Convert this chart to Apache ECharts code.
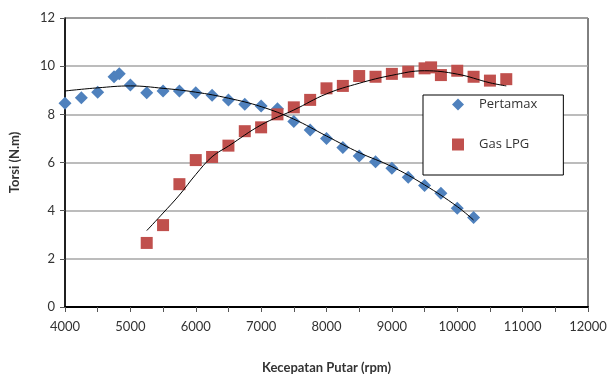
<!DOCTYPE html>
<html>
<head>
<meta charset="utf-8">
<script src="https://cdn.jsdelivr.net/npm/echarts@6/dist/echarts.min.js"></script>
<style>
  html, body { margin: 0; padding: 0; background: #fff; }
  #chart { width: 611px; height: 374px; }
</style>
</head>
<body>
<div id="chart"></div>
<script>
// data
const pertamaxRpm = [4000, 4250, 4500, 4750, 4830, 5000, 5250, 5500, 5750, 6000, 6250, 6500, 6750, 7000, 7250, 7500, 7750, 8000, 8250, 8500, 8750, 9000, 9250, 9500, 9750, 10000, 10250]
const pertamaxTorsi = [8.46, 8.69, 8.92, 9.56, 9.68, 9.22, 8.9, 8.97, 8.97, 8.9, 8.79, 8.6, 8.42, 8.35, 8.23, 7.7, 7.35, 7.0, 6.62, 6.27, 6.03, 5.76, 5.39, 5.04, 4.72, 4.1, 3.72]

const lpgRpm = [5250, 5500, 5750, 6000, 6250, 6500, 6750, 7000, 7250, 7500, 7750, 8000, 8250, 8500, 8750, 9000, 9250, 9500, 9600, 9750, 10000, 10250, 10500, 10750]
const lpgTorsi = [2.66, 3.4, 5.1, 6.1, 6.23, 6.7, 7.3, 7.46, 8.0, 8.29, 8.6, 9.08, 9.18, 9.59, 9.56, 9.68, 9.77, 9.91, 9.95, 9.63, 9.81, 9.56, 9.4, 9.46]

// trend lines
const trendPertamaxRpm = [4000, 4500, 5000, 5500, 6000, 6500, 7000, 7500, 8000, 8500, 9000, 9500, 10000, 10250]
const trendPertamaxTorsi = [8.97, 9.1, 9.18, 9.08, 8.92, 8.67, 8.32, 7.8, 7.1, 6.41, 5.83, 5.07, 4.17, 3.61]
const trendLpgRpm = [5250, 5500, 5750, 6000, 6250, 6500, 7000, 7500, 8000, 8500, 9000, 9500, 10000, 10500, 10750]
const trendLpgTorsi = [3.17, 3.9, 4.65, 5.5, 6.24, 6.68, 7.56, 8.18, 8.85, 9.29, 9.62, 9.81, 9.67, 9.31, 9.18]

const xTicks = ['4000', '5000', '6000', '7000', '8000', '9000', '10000', '11000', '12000']
const yTicks = ['0', '2', '4', '6', '8', '10', '12']

const pairs = (xs, ys) => xs.map((x, i) => [x, ys[i]])

const chart = echarts.init(document.getElementById('chart'))
const font = 'Lato, "Open Sans", sans-serif'

const option = {
  backgroundColor: '#fff',
  animation: false,
  textStyle: { fontFamily: font },
  grid: {
    left: 65, right: 23, top: 18, bottom: 67,
    outerBoundsMode: 'none',
    show: true, borderColor: '#000', borderWidth: 1
  },
  legend: {
    data: ['Pertamax', 'Gas LPG'],
    orient: 'vertical',
    left: 423, top: 95,
    padding: [3, 26, 24, 29],
    itemGap: 27,
    itemWidth: 12, itemHeight: 12,
    backgroundColor: '#fff',
    borderColor: '#000', borderWidth: 1,
    textStyle: { fontFamily: '"Open Sans", sans-serif', fontSize: 13, color: '#333', padding: [0, 0, 0, 10] }
  },
  xAxis: {
    type: 'value',
    min: 4000, max: 12000, interval: 1000,
    name: 'Kecepatan Putar (rpm)',
    nameLocation: 'middle', nameGap: 54,
    nameTextStyle: { fontFamily: font, fontSize: 13, fontWeight: 'bold', color: '#333' },
    axisLine: { lineStyle: { color: '#000', width: 2 } },
    axisTick: { show: true, inside: false, length: 5, lineStyle: { color: '#555' } },
    minorTick: { show: true, splitNumber: 2, length: 5, lineStyle: { color: '#555' } },
    axisLabel: {
      fontSize: 13, color: '#333', margin: 13,
      formatter: v => xTicks[xTicks.indexOf(String(v))] || ''
    },
    splitLine: { show: false }
  },
  yAxis: {
    type: 'value',
    min: 0, max: 12, interval: 2,
    name: 'Torsi (N.m)',
    nameLocation: 'middle', nameGap: 44,
    nameTextStyle: { fontFamily: font, fontSize: 13, fontWeight: 'bold', color: '#333' },
    axisLine: { show: true, lineStyle: { color: '#000', width: 1.5 } },
    axisTick: { show: true, length: 5, lineStyle: { color: '#555' } },
    axisLabel: {
      fontSize: 13, color: '#333', margin: 10,
      formatter: v => yTicks[yTicks.indexOf(String(v))] || ''
    },
    splitLine: { show: true, lineStyle: { color: '#a6a6a6', width: 1.5 } }
  },
  series: [
    {
      name: 'Pertamax',
      type: 'scatter',
      symbol: 'diamond',
      symbolSize: 13,
      itemStyle: { color: '#4f81bd', opacity: 1 },
      data: pairs(pertamaxRpm, pertamaxTorsi),
      z: 3
    },
    {
      name: 'Gas LPG',
      type: 'scatter',
      symbol: 'rect',
      symbolSize: 12,
      itemStyle: { color: '#c0504d', opacity: 1 },
      data: pairs(lpgRpm, lpgTorsi),
      z: 3
    },
    {
      name: 'Trend Pertamax',
      type: 'line',
      smooth: 0.4,
      showSymbol: false,
      lineStyle: { color: '#000', width: 1 },
      data: pairs(trendPertamaxRpm, trendPertamaxTorsi),
      z: 4
    },
    {
      name: 'Trend LPG',
      type: 'line',
      smooth: 0.4,
      showSymbol: false,
      lineStyle: { color: '#000', width: 1 },
      data: pairs(trendLpgRpm, trendLpgTorsi),
      z: 4
    }
  ]
}

chart.setOption(option)
</script>
</body>
</html>
